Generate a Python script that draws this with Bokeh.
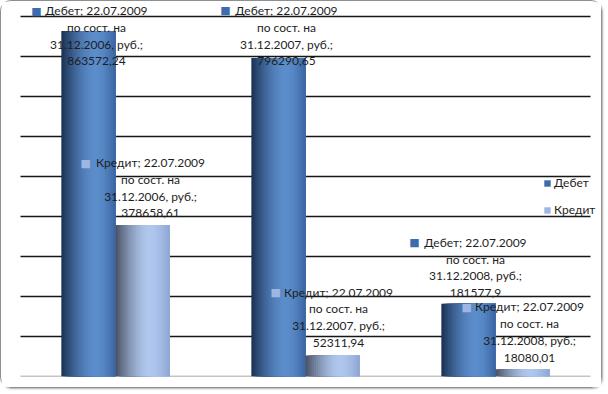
from bokeh.plotting import figure
from bokeh.models import (FactorRange, Range1d, ColumnDataSource,
                          Legend, LegendItem)
from bokeh.transform import dodge
from bokeh.core.properties import value
from bokeh.embed import file_html
from bokeh.resources import INLINE

# ---------------- data ----------------
categories = ["22.07.2009 по сост. на 31.12.2006, руб.",
              "22.07.2009 по сост. на 31.12.2007, руб.",
              "22.07.2009 по сост. на 31.12.2008, руб."]
series_names = ["Дебет", "Кредит"]
debet = [863572.24, 796290.65, 181577.9]
kredit = [378658.61, 52311.94, 18080.01]
debet_txt = ["863572,24", "796290,65", "181577,9"]
kredit_txt = ["378658,61", "52311,94", "18080,01"]
y_max = 900000
y_step = 100000

# ---------------- style ----------------
FONT = "Lato"
TXT = "#1e1e1e"
key_colors = ["#3b6cae", "#9db7e2"]
# (dark edge, highlight, right edge) for cylinder shading
shades = [((26, 48, 82), (92, 142, 204), (58, 100, 160)),
          ((72, 80, 98), (176, 200, 238), (140, 164, 210))]
bar_w = 0.285
offsets = [-bar_w / 2, bar_w / 2]
# label placement relative to bar top (px, screen, down positive): text dx, line1 dy, key dx
lab_pos = [
    [(8, -20, -52), (8, -47, -53), (7, -61, -54)],
    [(8, -62, -57), (6, -63, -57), (7, -62, -56)],
]

W, H = 602, 388
PAD = 7               # px of frame beyond the gridded area on each side
B_L, B_R, B_T, B_B = 19 - PAD, 13 - PAD, 1, 13
GRID_H = 360          # px height of the gridded area (0 .. y_max)
CAT_W = 190           # px per category
frame_h = H - B_T - B_B
y_end = y_max * frame_h / GRID_H   # headroom above the top gridline for labels

p = figure(x_range=FactorRange(*categories, range_padding=PAD / CAT_W,
                               range_padding_units="absolute"),
           y_range=Range1d(0, y_end),
           width=W, height=H, output_backend="svg", toolbar_location=None,
           x_axis_location=None, y_axis_location=None,
           min_border_left=B_L, min_border_right=B_R, min_border_top=B_T, min_border_bottom=B_B)
p.grid.visible = False
p.outline_line_color = None
p.background_fill_color = "white"
p.border_fill_color = "white"
p.styles = {"border": "1px solid #8f8f8f", "border-radius": "11px",
            "box-shadow": "1px 1px 2px #b0b0b0"}

# grid lines across the category area only
ticks = list(range(y_step, y_max + 1, y_step))
gsrc = ColumnDataSource(dict(y=ticks, c0=[categories[0]] * len(ticks),
                             c1=[categories[-1]] * len(ticks)))
p.segment(x0=dodge("c0", -0.5, range=p.x_range), x1=dodge("c1", 0.5, range=p.x_range),
          y0="y", y1="y", source=gsrc, line_color="#161616", line_width=1.6)
bsrc = ColumnDataSource(dict(y=[0], c0=[categories[0]], c1=[categories[-1]]))
p.segment(x0=dodge("c0", -0.5, range=p.x_range), x1=dodge("c1", 0.5, range=p.x_range),
          y0="y", y1="y", source=bsrc, line_color="#8a8a8a", line_width=1.5)

src = ColumnDataSource(dict(cat=categories, d=debet, k=kredit))


def shade(c, t):
    dark, light, edge = c
    peak = 0.62
    if t <= peak:
        f = 1 - ((peak - t) / peak) ** 1.6
        return tuple(int(dark[j] + f * (light[j] - dark[j])) for j in range(3))
    f = ((t - peak) / (1 - peak)) ** 1.8
    return tuple(int(light[j] + f * (edge[j] - light[j])) for j in range(3))


N = 26
legend_items = []
for s, field in enumerate(["d", "k"]):
    left = offsets[s] - bar_w / 2
    right = offsets[s] + bar_w / 2
    step = bar_w / N
    for i in range(N):
        t = (i + 0.5) / N
        r, g, b = shade(shades[s], t)
        col = "#%02x%02x%02x" % (r, g, b)
        l = left + i * step
        p.vbar(x=dodge("cat", (l + right) / 2, range=p.x_range), top=field,
               width=right - l, source=src, fill_color=col, line_color=None)
    dummy = p.vbar(x=dodge("cat", offsets[s], range=p.x_range), top=0, width=0,
                   source=src, fill_color=key_colors[s], line_color=None)
    legend_items.append(LegendItem(label=series_names[s], renderers=[dummy]))

legend = Legend(items=legend_items, location=(523 + PAD, 157), padding=0, margin=0,
                border_line_color=None, background_fill_alpha=0,
                glyph_width=8, glyph_height=8, label_standoff=3, spacing=8,
                label_height=19, label_text_font=FONT, label_text_font_size="12px",
                label_text_color=TXT)
p.add_layout(legend, "center")

# data labels
for s, (vals, txts) in enumerate([(debet, debet_txt), (kredit, kredit_txt)]):
    texts = []
    for c, v in zip(categories, txts):
        texts.append(series_names[s] + "; " + c.replace(" по сост. на ", "\nпо сост. на\n") + ";\n" + v)
    lsrc = ColumnDataSource(dict(cat=categories, v=vals, text=texts,
                                 dx=[q[0] for q in lab_pos[s]],
                                 dy=[q[1] - 8 for q in lab_pos[s]],
                                 kx=[q[2] for q in lab_pos[s]],
                                 ky=[q[1] for q in lab_pos[s]]))
    p.text(x=dodge("cat", offsets[s], range=p.x_range), y="v", text="text", source=lsrc,
           x_offset="dx", y_offset="dy", text_align="center", text_baseline="top",
           text_font=value(FONT), text_font_size="12px", text_color=TXT,
           text_line_height=1.12)
    p.text(x=dodge("cat", offsets[s], range=p.x_range), y="v", text=value("■"), source=lsrc,
           x_offset="kx", y_offset="ky", text_align="center", text_baseline="middle",
           text_font=value("DejaVu Sans"), text_font_size="11px", text_color=key_colors[s])

open("out.html", "w").write(file_html(p, INLINE))
